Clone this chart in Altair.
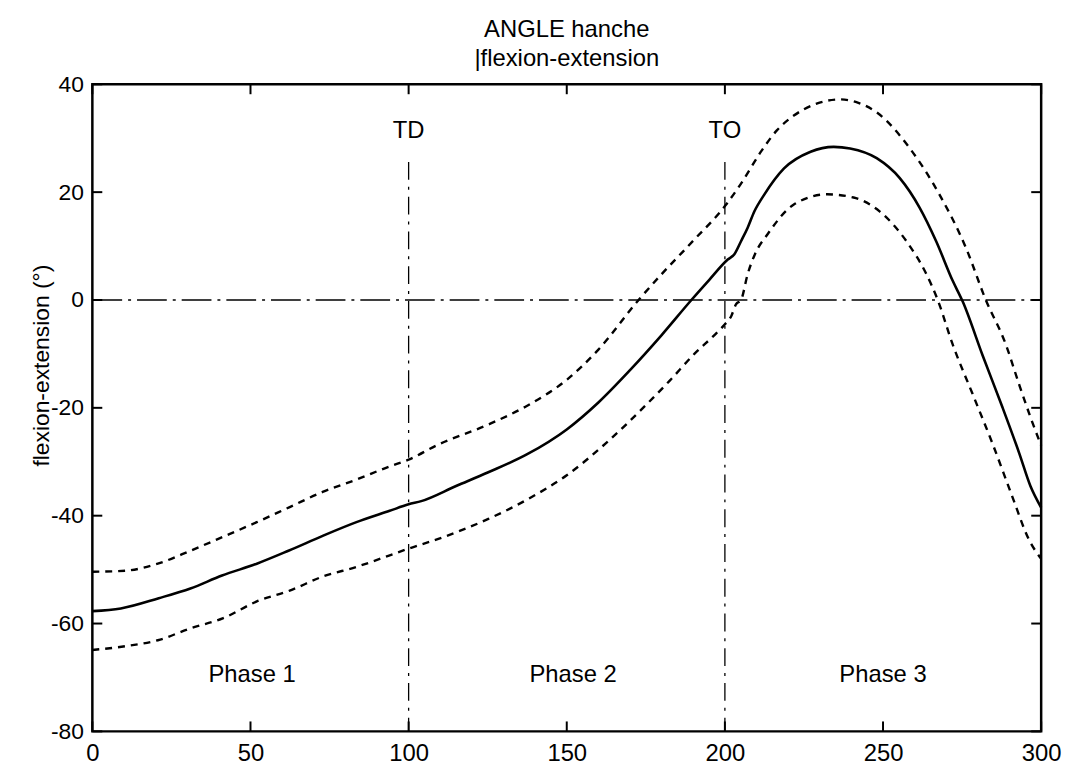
import altair as alt
import pandas as pd

# ---- data ----
mean_x = [0, 9, 21, 31, 41, 52, 62, 73, 83.5, 94, 100, 104, 115, 125, 137.5, 150, 160, 170, 180, 189.4,
          195, 200.9, 203, 205.1, 207.2, 209.3, 212.4, 218.7, 227.1, 234.4, 239.6, 248, 255.3, 261.6,
          266.8, 272, 275.2, 281.5, 287.7, 293, 296.6, 300]
mean_y = [-57.7, -57.2, -55.3, -53.5, -51.1, -48.9, -46.5, -43.7, -41.2, -39.1, -37.9, -37.3, -34.5, -32,
          -28.6, -24, -19, -13, -6.5, 0, 3.7, 7.5, 8.5, 10.9, 13.4, 16.4, 19.5, 24.4, 27.5, 28.4, 28.1,
          26.3, 22.6, 17.1, 10.9, 3.6, -0.3, -10.3, -19.8, -28.3, -34.5, -38.5]

upper_x = [0, 10.5, 20.7, 31, 41.4, 52, 62.4, 72.8, 83.5, 93.8, 100, 109.4, 125.2, 137.5, 150, 160,
           172.7, 180, 190, 200.4, 205, 211.4, 216.5, 221.8, 229, 236.5, 242, 248, 258.5, 267.9,
           276.2, 282.5, 288.8, 293, 296.6, 300]
upper_y = [-50.4, -50.2, -48.9, -46.5, -43.9, -41.2, -38.4, -35.6, -33.3, -30.9, -29.6, -26.8, -23.1,
           -19.6, -14.8, -9.2, 0, 4.8, 11, 17.7, 21.5, 27.5, 31.5, 34.2, 36.4, 37.2, 36.6, 34.8, 28.1,
           19.5, 9.7, 0, -8.2, -15.6, -21.7, -27]

lower_x = [0, 10.5, 20.7, 31, 41.4, 52, 62.4, 72.8, 83.5, 93.8, 100, 109.4, 125.2, 137.5, 150, 162.5,
           175, 182.5, 190.5, 196.7, 200, 202, 203.5, 205.1, 207.2, 209.5, 213.5, 221.8, 232.3, 240.7,
           249, 257.4, 263.7, 267.3, 272, 278.3, 284.6, 290.9, 296.1, 300]
lower_y = [-64.9, -64.2, -63.1, -60.9, -59, -55.9, -53.9, -51.3, -49.5, -47.4, -46.1, -44.3, -40.6,
           -37, -32.5, -26.5, -19.5, -15, -9.9, -6.5, -4.5, -3, -0.8, 0, 4.8, 8.5, 12.2, 17.7, 19.6,
           19, 16.4, 10.9, 4.8, 0, -8.2, -17.4, -26.6, -36.5, -44.4, -48]

event_x = [100, 200]
event_labels = ["TD", "TO"]
event_label_y = 31.3
event_line_top = 25.6

phase_x = [50.5, 152, 250]
phase_labels = ["Phase 1", "Phase 2", "Phase 3"]
phase_y = -69.5

x_ticks = [0, 50, 100, 150, 200, 250, 300]
y_ticks = [-80, -60, -40, -20, 0, 20, 40]

title_lines = ["ANGLE hanche", "|flexion-extension"]
y_title = "flexion-extension (°)"

FONT = "Liberation Sans"
W, H = 956, 652
TICK = 10

xs = alt.Scale(domain=[0, 300], nice=False, zero=False)
ys = alt.Scale(domain=[-80, 40], nice=False, zero=False)

label_expr = "datum.value < 0 ? '-' + abs(datum.value) : '' + datum.value"

xaxis = alt.Axis(values=x_ticks, grid=False, ticks=False, domain=False, labelFont=FONT,
                 labelFontSize=24, labelColor="black", labelPadding=10, title=None, labelFlush=False)
yaxis = alt.Axis(values=y_ticks, grid=False, ticks=False, domain=False, labelFont=FONT,
                 labelFontSize=23, labelColor="black", labelPadding=9, labelExpr=label_expr,
                 title=y_title, titleFont=FONT, titleFontSize=23, titleFontWeight="normal",
                 titleColor="black", titleX=-51, titleY=283, titleAngle=270,
                 titleBaseline="middle", titleAlign="center")

def series(xv, yv, name):
    return pd.DataFrame({"x": xv, "y": yv, "s": name})

df_mean = series(mean_x, mean_y, "mean")
df_up = series(upper_x, upper_y, "upper")
df_lo = series(lower_x, lower_y, "lower")

mean_line = alt.Chart(df_mean).mark_line(color="black", strokeWidth=2.6, interpolate="monotone").encode(
    x=alt.X("x:Q", scale=xs, axis=xaxis), y=alt.Y("y:Q", scale=ys, axis=yaxis))
up_line = alt.Chart(df_up).mark_line(color="black", strokeWidth=2.4, strokeDash=[7, 6],
                                     interpolate="monotone").encode(x="x:Q", y="y:Q")
lo_line = alt.Chart(df_lo).mark_line(color="black", strokeWidth=2.4, strokeDash=[7, 6],
                                     interpolate="monotone").encode(x="x:Q", y="y:Q")

zero_df = pd.DataFrame({"y": [0]})
zero_line = alt.Chart(zero_df).mark_rule(color="black", strokeWidth=1.3, strokeDash=[30, 6, 3, 6]).encode(
    y="y:Q", x=alt.value(0), x2=alt.value(W))

ev_df = pd.DataFrame({"x": event_x, "top": [event_line_top] * 2, "bot": [-80] * 2,
                      "label": event_labels, "ly": [event_label_y] * 2})
ev_lines = alt.Chart(ev_df).mark_rule(color="black", strokeWidth=1.3, strokeDash=[18, 7, 3, 7]).encode(
    x="x:Q", y="top:Q", y2="bot:Q")
ev_text = alt.Chart(ev_df).mark_text(font=FONT, fontSize=24, color="black", align="center",
                                     baseline="middle").encode(x="x:Q", y="ly:Q", text="label:N")

ph_df = pd.DataFrame({"x": phase_x, "y": [phase_y] * 3, "label": phase_labels})
ph_text = alt.Chart(ph_df).mark_text(font=FONT, fontSize=24, color="black", align="center",
                                     baseline="middle").encode(x="x:Q", y="y:Q", text="label:N")

xt_df = pd.DataFrame({"v": x_ticks})
yt_df = pd.DataFrame({"v": y_ticks})
tick_b = alt.Chart(xt_df).mark_rule(color="black", strokeWidth=2).encode(
    x="v:Q", y=alt.value(H), y2=alt.value(H - TICK))
tick_t = alt.Chart(xt_df).mark_rule(color="black", strokeWidth=2).encode(
    x="v:Q", y=alt.value(0), y2=alt.value(TICK))
tick_l = alt.Chart(yt_df).mark_rule(color="black", strokeWidth=2).encode(
    y="v:Q", x=alt.value(0), x2=alt.value(TICK))
tick_r = alt.Chart(yt_df).mark_rule(color="black", strokeWidth=2).encode(
    y="v:Q", x=alt.value(W), x2=alt.value(W - TICK))

chart = alt.layer(
    mean_line, up_line, lo_line, zero_line, ev_lines, ev_text, ph_text, tick_b, tick_t, tick_l, tick_r
).properties(
    width=W, height=H,
    background="white",
    autosize=alt.AutoSizeParams(type="none"),
    padding={"left": 85, "top": 74, "right": 21, "bottom": 31},
    title=alt.TitleParams(text=title_lines, font=FONT, fontSize=24, fontWeight="normal",
                          color="black", anchor="middle", lineHeight=30, offset=2),
).configure_view(stroke="black", strokeWidth=2.5)

chart.save("out.html", embed_options={"renderer": "svg", "actions": False})
